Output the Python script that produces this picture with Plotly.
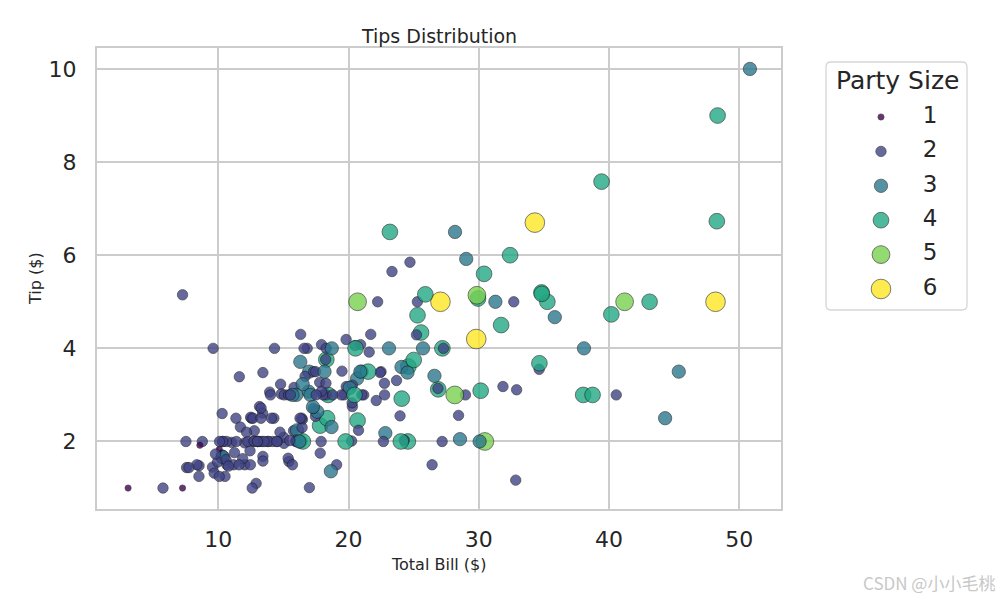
import plotly.graph_objects as go

# ---- data (seaborn "tips") ----
total_bill = [16.99,10.34,21.01,23.68,24.59,25.29,8.77,26.88,15.04,14.78,
10.27,35.26,15.42,18.43,14.83,21.58,10.33,16.29,16.97,20.65,
17.92,20.29,15.77,39.42,19.82,17.81,13.37,12.69,21.70,19.65,
9.55,18.35,15.06,20.69,17.78,24.06,16.31,16.93,18.69,31.27,
16.04,17.46,13.94,9.68,30.40,18.29,22.23,32.40,28.55,18.04,
12.54,10.29,34.81,9.94,25.56,19.49,38.01,26.41,11.24,48.27,
20.29,13.81,11.02,18.29,17.59,20.08,16.45,3.07,20.23,15.01,
12.02,17.07,26.86,25.28,14.73,10.51,17.92,27.20,22.76,17.29,
19.44,16.66,10.07,32.68,15.98,34.83,13.03,18.28,24.71,21.16,
28.97,22.49,5.75,16.32,22.75,40.17,27.28,12.03,21.01,12.46,
11.35,15.38,44.30,22.42,20.92,15.36,20.49,25.21,18.24,14.31,
14.00,7.25,38.07,23.95,25.71,17.31,29.93,10.65,12.43,24.08,
11.69,13.42,14.26,15.95,12.48,29.80,8.52,14.52,11.38,22.82,
19.08,20.27,11.17,12.26,18.26,8.51,10.33,14.15,16.00,13.16,
17.47,34.30,41.19,27.05,16.43,8.35,18.64,11.87,9.78,7.51,
14.07,13.13,17.26,24.55,19.77,29.85,48.17,25.00,13.39,16.49,
21.50,12.66,16.21,13.81,17.51,24.52,20.76,31.71,10.59,10.63,
50.81,15.81,7.25,31.85,16.82,32.90,17.89,14.48,9.60,34.63,
34.65,23.33,45.35,23.17,40.55,20.69,20.90,30.46,18.15,23.10,
15.69,19.81,28.44,15.48,16.58,7.56,10.34,43.11,13.00,13.51,
18.71,12.74,13.00,16.40,20.53,16.47,26.59,38.73,24.27,12.76,
30.06,25.89,48.33,13.27,28.17,12.90,28.15,11.59,7.74,30.14,
12.16,13.42,8.58,15.98,13.42,16.27,10.09,20.45,13.28,22.12,
24.01,15.69,11.61,10.77,15.53,10.07,12.60,32.83,35.83,29.03,
27.18,22.67,17.82,18.78]

tip = [1.01,1.66,3.50,3.31,3.61,4.71,2.00,3.12,1.96,3.23,
1.71,5.00,1.57,3.00,3.02,3.92,1.67,3.71,3.50,3.35,
4.08,2.75,2.23,7.58,3.18,2.34,2.00,2.00,4.30,3.00,
1.45,2.50,3.00,2.45,3.27,3.60,2.00,3.07,2.31,5.00,
2.24,2.54,3.06,1.32,5.60,3.00,5.00,6.00,2.05,3.00,
2.50,2.60,5.20,1.56,4.34,3.51,3.00,1.50,1.76,6.73,
3.21,2.00,1.98,3.76,2.64,3.15,2.47,1.00,2.01,2.09,
1.97,3.00,3.14,5.00,2.20,1.25,3.08,4.00,3.00,2.71,
3.00,3.40,1.83,5.00,2.03,5.17,2.00,4.00,5.85,3.00,
3.00,3.50,1.00,4.30,3.25,4.73,4.00,1.50,3.00,1.50,
2.50,3.00,2.50,3.48,4.08,1.64,4.06,4.29,3.76,4.00,
3.00,1.00,4.00,2.55,4.00,3.50,5.07,1.50,1.80,2.92,
2.31,1.68,2.50,2.00,2.52,4.20,1.48,2.00,2.00,2.18,
1.50,2.83,1.50,2.00,3.25,1.25,2.00,2.00,2.00,2.75,
3.50,6.70,5.00,5.00,2.30,1.50,1.36,1.63,1.73,2.00,
2.50,2.00,2.74,2.00,2.00,5.14,5.00,3.75,2.61,2.00,
3.50,2.50,2.00,2.00,3.00,3.48,2.24,4.50,1.61,2.00,
10.00,3.16,5.15,3.18,4.00,3.11,2.00,2.00,4.00,3.55,
3.68,5.65,3.50,6.50,3.00,5.00,3.50,2.00,3.50,4.00,
1.50,4.19,2.56,2.02,4.00,1.44,2.00,5.00,2.00,2.00,
4.00,2.01,2.00,2.50,4.00,3.23,3.41,3.00,2.03,2.23,
2.00,5.16,9.00,2.50,6.50,1.10,3.00,1.50,1.44,3.09,
2.20,3.48,1.92,3.00,1.58,2.50,2.00,3.00,2.72,2.88,
2.00,3.00,3.39,1.47,3.00,1.25,1.00,1.17,4.67,5.92,
2.00,2.00,1.75,3.00]

party_size = [2,3,3,2,4,4,2,4,2,2,
2,4,2,4,2,2,3,3,3,3,
2,2,2,4,2,4,2,2,2,2,
2,4,2,4,2,3,3,3,3,3,
3,2,2,2,4,2,2,4,3,2,
2,2,4,2,4,2,4,2,2,4,
2,2,2,4,3,3,2,1,2,2,
2,3,2,2,2,2,2,4,2,2,
2,2,1,2,2,4,2,2,2,2,
2,2,2,2,2,4,2,2,2,2,
2,2,3,2,2,2,2,2,2,2,
2,1,3,2,3,2,4,2,2,4,
2,2,2,2,2,6,2,2,2,3,
2,2,2,2,2,2,2,2,2,2,
2,6,5,6,2,2,3,2,2,2,
2,2,3,4,4,5,6,4,2,4,
4,2,3,2,2,3,2,4,2,2,
3,2,2,2,2,2,2,2,2,2,
4,2,3,4,2,5,3,5,3,3,
2,2,2,2,2,2,2,4,2,2,
3,2,2,2,4,3,3,4,2,2,
3,4,4,2,3,2,5,2,2,4,
2,2,1,3,2,2,2,4,2,2,
4,3,2,2,2,2,2,2,3,3,
2,2,2,2]

legend_sizes = [1, 2, 3, 4, 5, 6]
legend_labels = ["1", "2", "3", "4", "5", "6"]
x_ticks = [10, 20, 30, 40, 50]
y_ticks = [2, 4, 6, 8, 10]

# ---- style mappings ----
VIRIDIS = {1: "#440154", 2: "#414487", 3: "#2a788e", 4: "#22a884", 5: "#7ad151", 6: "#fde725"}
S_MIN, S_MAX = min(party_size), max(party_size)

def diam(s):
    area = 20 + (s - S_MIN) / (S_MAX - S_MIN) * (200 - 20)  # pt^2
    return area ** 0.5 * 100 / 72

TXT = "#262626"
GRID = "#cccccc"
FONT = "DejaVu Sans"

W, H = 1000, 600
ML, MR, MT, MB = 97, 20, 48, 91
PW = W - ML - MR
PH = H - MT - MB
plot_right = 781

def px_x(p):
    return (p - ML) / PW

def px_y(p):
    return (H - MB - p) / PH

fig = go.Figure()

fig.add_trace(go.Scatter(
    x=total_bill, y=tip, mode="markers", showlegend=False,
    marker=dict(color=[VIRIDIS[s] for s in party_size],
                size=[diam(s) for s in party_size],
                opacity=0.8,
                line=dict(color="#1a1a1a", width=0.7)),
    xaxis="x", yaxis="y", hoverinfo="x+y"))

# custom legend (on its own hidden axes)
fig.add_trace(go.Scatter(
    x=[0.39] * len(legend_sizes), y=legend_sizes, mode="markers", showlegend=False,
    marker=dict(color=[VIRIDIS[s] for s in legend_sizes],
                size=[diam(s) for s in legend_sizes],
                opacity=0.8, line=dict(color="#1a1a1a", width=0.7)),
    xaxis="x2", yaxis="y2", hoverinfo="skip"))
fig.add_trace(go.Scatter(
    x=[0.738] * len(legend_sizes), y=legend_sizes, mode="text", text=legend_labels,
    textfont=dict(family=FONT, size=23, color=TXT), showlegend=False,
    xaxis="x2", yaxis="y2", hoverinfo="skip"))

# legend box with rounded corners
x0, x1 = px_x(826), px_x(967)
y0, y1 = px_y(310), px_y(62)
rx, ry = 5 / PW, 5 / PH
path = (f"M {x0+rx},{y1} L {x1-rx},{y1} Q {x1},{y1} {x1},{y1-ry} "
        f"L {x1},{y0+ry} Q {x1},{y0} {x1-rx},{y0} L {x0+rx},{y0} "
        f"Q {x0},{y0} {x0},{y0+ry} L {x0},{y1-ry} Q {x0},{y1} {x0+rx},{y1} Z")
fig.add_shape(type="path", path=path, xref="paper", yref="paper",
              line=dict(color="#d6d6d6", width=1.3), layer="above")

# legend rows: y pixel = 117 + (s-1)*34.4 ; box spans 62..310
row_h = 34.4
y2_top = 1 + (62 - 117) / row_h
y2_bot = 1 + (310 - 117) / row_h

fig.update_layout(
    width=W, height=H,
    margin=dict(l=ML, r=MR, t=MT, b=MB),
    paper_bgcolor="white", plot_bgcolor="white",
    font=dict(family=FONT, color=TXT),
    xaxis=dict(domain=[0, px_x(plot_right)], range=[0.683, 53.197],
               tickvals=x_ticks, ticktext=[str(v) for v in x_ticks],
               showgrid=True, gridcolor=GRID, gridwidth=1.6,
               showline=True, linecolor=GRID, linewidth=2, mirror=True,
               zeroline=False, ticks="", tickfont=dict(size=22, color=TXT),
               ticklabelstandoff=10),
    yaxis=dict(domain=[0, 1], range=[0.55, 10.45],
               tickvals=y_ticks, ticktext=[str(v) for v in y_ticks],
               showgrid=True, gridcolor=GRID, gridwidth=1.6,
               showline=True, linecolor=GRID, linewidth=2, mirror=True,
               zeroline=False, ticks="", tickfont=dict(size=22, color=TXT),
               ticklabelstandoff=14),
    xaxis2=dict(domain=[x0, x1], range=[0, 1], visible=False, fixedrange=True,
                anchor="y2"),
    yaxis2=dict(domain=[y0, y1], range=[y2_bot, y2_top], visible=False,
                fixedrange=True, anchor="x2"),
    annotations=[
        dict(text="Tips Distribution", x=px_x(439), y=px_y(36), xref="paper", yref="paper",
             showarrow=False, font=dict(size=19, color=TXT), xanchor="center", yanchor="middle"),
        dict(text="Total Bill ($)", x=px_x(439), y=px_y(564), xref="paper", yref="paper",
             showarrow=False, font=dict(size=16, color=TXT), xanchor="center", yanchor="middle"),
        dict(text="Tip ($)", x=px_x(35), y=px_y(278), xref="paper", yref="paper",
             showarrow=False, font=dict(size=16, color=TXT), textangle=-90,
             xanchor="center", yanchor="middle"),
        dict(text="Party Size", x=0.504, y=1 + (80 - 117) / row_h, xref="x2", yref="y2",
             showarrow=False, font=dict(size=25, color=TXT), xanchor="center", yanchor="middle"),
        dict(text="CSDN @小小毛桃", x=px_x(997), y=px_y(582), xref="paper", yref="paper",
             showarrow=False, font=dict(size=17, color="#c8c8c8",
                                        family="Noto Sans CJK SC, DejaVu Sans"),
             xanchor="right", yanchor="middle"),
    ],
)

fig.write_html("out.html",
               config={"displayModeBar": False},
               post_script="document.body.style.margin='0';document.body.style.overflow='hidden';")
